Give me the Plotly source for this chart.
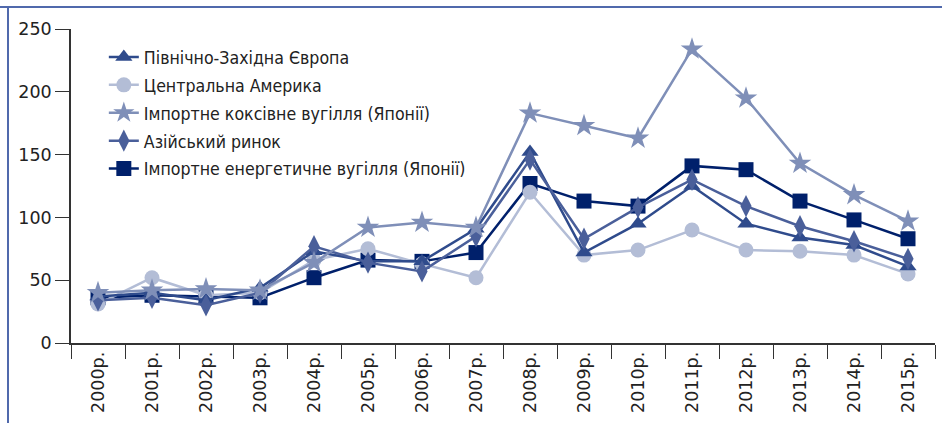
import plotly.graph_objects as go

years = ["2000р.", "2001р.", "2002р.", "2003р.", "2004р.", "2005р.", "2006р.", "2007р.",
         "2008р.", "2009р.", "2010р.", "2011р.", "2012р.", "2013р.", "2014р.", "2015р."]

nw_europe = [37, 40, 34, 44, 73, 65, 65, 91, 152, 72, 95, 125, 95, 84, 78, 61]
central_america = [31, 52, 38, 40, 66, 75, 63, 52, 120, 70, 74, 90, 74, 73, 70, 55]
japan_coking = [40, 42, 43, 42, 64, 92, 96, 92, 183, 173, 163, 234, 195, 143, 118, 97]
asian_market = [34, 36, 30, 40, 77, 64, 57, 85, 146, 83, 108, 130, 109, 93, 81, 67]
japan_steam = [36, 38, 37, 36, 52, 66, 65, 72, 127, 113, 109, 141, 138, 113, 98, 83]

y_ticks = [0, 50, 100, 150, 200, 250]

series = [
    # (name, values, color, symbol, size, legend rank)
    ("Імпортне енергетичне вугілля (Японії)", japan_steam, "#00206B", "square", 15, 5),
    ("Центральна Америка", central_america, "#B3BDD6", "circle", 15, 2),
    ("Північно-Західна Європа", nw_europe, "#2F4B8C", "triangle-up", 15, 1),
    ("Азійський ринок", asian_market, "#4A5F9A", "diamond-tall", 16, 4),
    ("Імпортне коксівне вугілля (Японії)", japan_coking, "#7F8FB8", "star", 17, 3),
]

legend_font = "Liberation Sans Narrow, DejaVu Sans Condensed, Arial, sans-serif"
axis_font = "DejaVu Sans, Arial, sans-serif"

fig = go.Figure()
for name, vals, color, symbol, size, rank in series:
    fig.add_trace(go.Scatter(
        x=years, y=vals, name=name, mode="lines+markers",
        line=dict(color=color, width=2.5),
        marker=dict(symbol=symbol, size=size, color=color, line=dict(width=0)),
        legendrank=rank, legendgroup=name,
    ))

fig.update_layout(
    width=942, height=423,
    margin=dict(l=71, r=7, t=29, b=80),
    paper_bgcolor="white", plot_bgcolor="white",
    showlegend=True,
    legend=dict(
        x=0.038, y=0.968, xanchor="left", yanchor="top",
        bgcolor="rgba(0,0,0,0)",
        font=dict(family=legend_font, size=17.6, color="#222222"),
        traceorder="grouped", tracegroupgap=2,
    ),
    xaxis=dict(
        type="category", showgrid=False, showline=True, linecolor="#333333", linewidth=1.5,
        ticks="outside", tickson="boundaries", ticklen=14, tickcolor="#333333", tickwidth=1.2,
        tickangle=-90, tickfont=dict(family=axis_font, size=17.5, color="#222222"),
        range=[-0.5, 15.5],
    ),
    yaxis=dict(
        range=[0, 250], tickvals=y_ticks, showgrid=False, zeroline=False,
        showline=True, linecolor="#333333", linewidth=1.5,
        ticks="outside", ticklen=14, tickcolor="#333333", tickwidth=1.2,
        tickfont=dict(family=axis_font, size=17.5, color="#222222"),
    ),
    shapes=[
        dict(type="line", xref="paper", yref="paper", x0=-71/864, x1=1.01, y0=1 + 22/314, y1=1 + 22/314,
             line=dict(color="#5069AC", width=2)),
        dict(type="line", xref="paper", yref="paper", x0=-63/864, x1=-63/864, y0=-0.3, y1=1 + 22/314,
             line=dict(color="#5069AC", width=2)),
    ],
)

fig.write_html("out.html")
